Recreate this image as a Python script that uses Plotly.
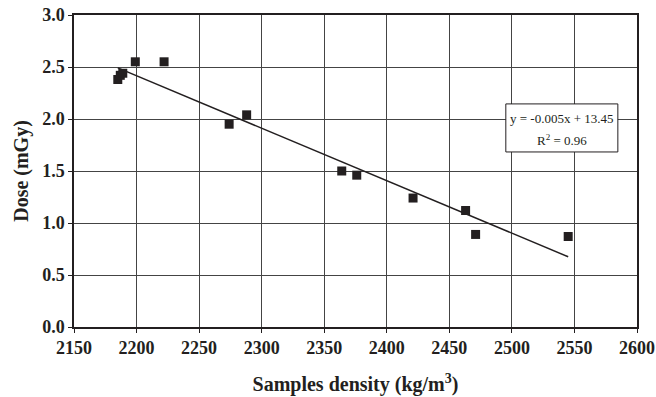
import numpy as np
import plotly.graph_objects as go

density = [2185, 2187, 2189, 2199, 2222, 2274, 2288, 2364, 2376, 2421, 2463, 2471, 2545]
dose = [2.38, 2.42, 2.44, 2.55, 2.55, 1.95, 2.04, 1.50, 1.46, 1.24, 1.12, 0.89, 0.87]
x_ticks = [2150, 2200, 2250, 2300, 2350, 2400, 2450, 2500, 2550, 2600]
y_ticks = [0.0, 0.5, 1.0, 1.5, 2.0, 2.5, 3.0]
eq_lines = ["y = -0.005x + 13.45", "R<sup>2</sup> = 0.96"]

slope, intercept = np.polyfit(density, dose, 1)
xl = [min(density), max(density)]
yl = [slope * v + intercept for v in xl]

font = "Liberation Serif, Times New Roman, serif"
ink = "#231f20"

fig = go.Figure()
fig.add_trace(go.Scatter(x=xl, y=yl, mode="lines", line=dict(color=ink, width=1.5),
                         showlegend=False, hoverinfo="skip"))
fig.add_trace(go.Scatter(x=density, y=dose, mode="markers",
                         marker=dict(symbol="square", size=9, color=ink),
                         showlegend=False))

fig.add_shape(type="rect", xref="paper", yref="paper", x0=0.767, x1=0.966, y0=0.561, y1=0.715,
              fillcolor="white", line=dict(color=ink, width=1), layer="above")
for txt, yy in zip(eq_lines, [0.668, 0.598]):
    fig.add_annotation(x=0.867, y=yy, xref="paper", yref="paper", text=txt,
                       showarrow=False, xanchor="center", yanchor="middle",
                       font=dict(family=font, size=13, color=ink, weight="normal"))

fig.update_xaxes(range=[2150, 2600], tickvals=x_ticks, ticktext=[str(v) for v in x_ticks],
                 showgrid=True, gridcolor="#444", gridwidth=1,
                 showline=True, linecolor=ink, linewidth=1.5, mirror=True,
                 ticks="outside", ticklen=4, tickcolor=ink, automargin=False,
                 tickfont=dict(family=font, size=18, color=ink, weight="bold"), zeroline=False,
                 title=dict(text="<b>Samples density (kg/m<sup>3</sup>)</b>",
                            font=dict(family=font, size=20, color=ink), standoff=20))
fig.update_yaxes(range=[0, 3.0], tickvals=y_ticks, ticktext=[f"{v:.1f}" for v in y_ticks],
                 showgrid=True, gridcolor="#444", gridwidth=1,
                 showline=True, linecolor=ink, linewidth=1.5, mirror=True,
                 ticks="outside", ticklen=4, tickcolor=ink, automargin=False,
                 tickfont=dict(family=font, size=18, color=ink, weight="bold"), zeroline=False,
                 title=dict(text="<b>Dose (mGy)</b>",
                            font=dict(family=font, size=20, color=ink), standoff=8))

fig.update_layout(width=656, height=397, margin=dict(l=74, r=19, t=15, b=70),
                  plot_bgcolor="white", paper_bgcolor="white",
                  font=dict(family=font, color=ink))
fig.write_html("out.html", config={"displayModeBar": False},
               post_script="document.body.style.margin='0';document.body.style.overflow='hidden';")
